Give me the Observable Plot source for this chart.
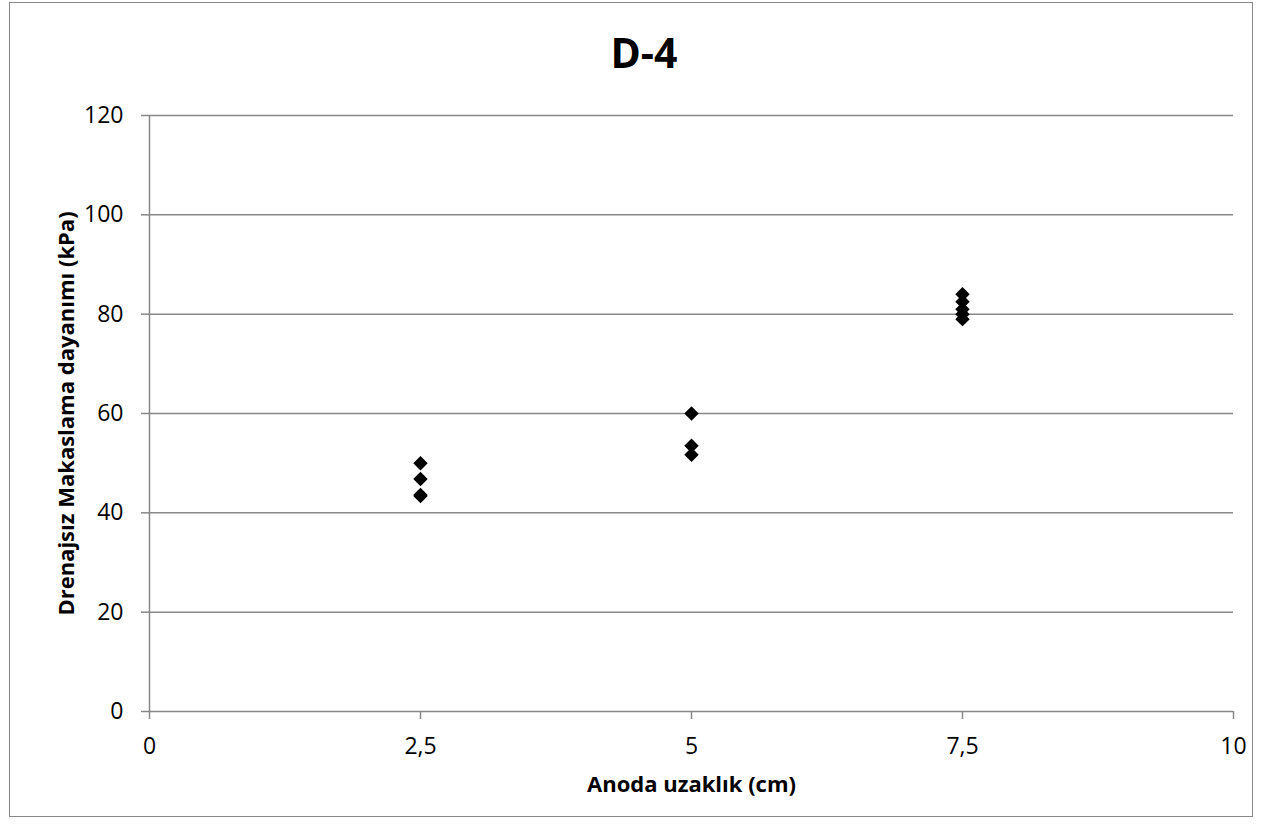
<!DOCTYPE html>
<html>
<head>
<meta charset="utf-8">
<script src="https://cdn.jsdelivr.net/npm/d3@7"></script>
<script src="https://cdn.jsdelivr.net/npm/@observablehq/plot@0.6"></script>
<style>
  html, body { margin: 0; padding: 0; background: #fff; }
  #wrap { position: relative; width: 1263px; height: 835px; font-family: "Open Sans", "Liberation Sans", sans-serif; }
  #frame { position: absolute; left: 9px; top: 2px; width: 1244px; height: 815px; border: 1px solid #888; box-sizing: border-box; }
  #title { position: absolute; left: 0; width: 1288px; top: 32px; line-height: 1; text-align: center; font-size: 41px; font-weight: bold; color: #000; }
  #chart { position: absolute; left: 0; top: 0; }
</style>
</head>
<body>
<div id="wrap">
  <div id="frame"></div>
  <div id="chart"></div>
  <div id="title"></div>
</div>
<script>
const distance = [2.5, 2.5, 2.5, 2.5, 5, 5, 5, 7.5, 7.5, 7.5, 7.5, 7.5];
const strength = [50, 46.8, 43.6, 43.4, 60, 53.5, 51.7, 84, 82.5, 81, 80, 79];
const xTicks = [0, 2.5, 5, 7.5, 10];
const yTicks = [0, 20, 40, 60, 80, 100, 120];
const title = "D-4";
const xLabel = "Anoda uzaklık (cm)";
const yLabel = "Drenajsız Makaslama dayanımı (kPa)";

document.getElementById("title").textContent = title;
const data = distance.map((d, i) => ({x: d, y: strength[i]}));

const chart = Plot.plot({
  width: 1263,
  height: 835,
  marginLeft: 149,
  marginRight: 30,
  marginTop: 115,
  marginBottom: 124,
  style: {fontFamily: '"Open Sans", "Liberation Sans", sans-serif', fontSize: "23px", color: "#000", background: "transparent"},
  x: {domain: [0, 10], ticks: xTicks},
  y: {domain: [0, 120], ticks: yTicks},
  marks: [
    Plot.ruleY(yTicks, {stroke: "#888", strokeWidth: 1.5, strokeOpacity: 1}),
    Plot.ruleX([0], {stroke: "#888", strokeWidth: 1.5}),
    Plot.axisY({ticks: yTicks, tickSize: 8, tickPadding: 18, stroke: "#888", strokeWidth: 1.5, strokeOpacity: 1, fontSize: 23, label: null}),
    Plot.axisX({ticks: xTicks, tickSize: 8, tickPadding: 18, stroke: "#888", strokeWidth: 1.5, strokeOpacity: 1, fontSize: 23,
      tickFormat: d => String(d).replace(".", ","), label: null}),
    Plot.text([xLabel], {frameAnchor: "bottom", dy: 80, text: d => d, fontWeight: "bold", fontSize: 22}),
    Plot.text([yLabel], {frameAnchor: "left", dx: -83, rotate: -90, textAnchor: "middle", text: d => d, fontWeight: "bold", fontSize: 22}),
    Plot.dot(data, {x: "x", y: "y", symbol: "diamond2", r: 6.5, fill: "#000", stroke: "none"})
  ]
});
document.getElementById("chart").appendChild(chart);
</script>
</body>
</html>
